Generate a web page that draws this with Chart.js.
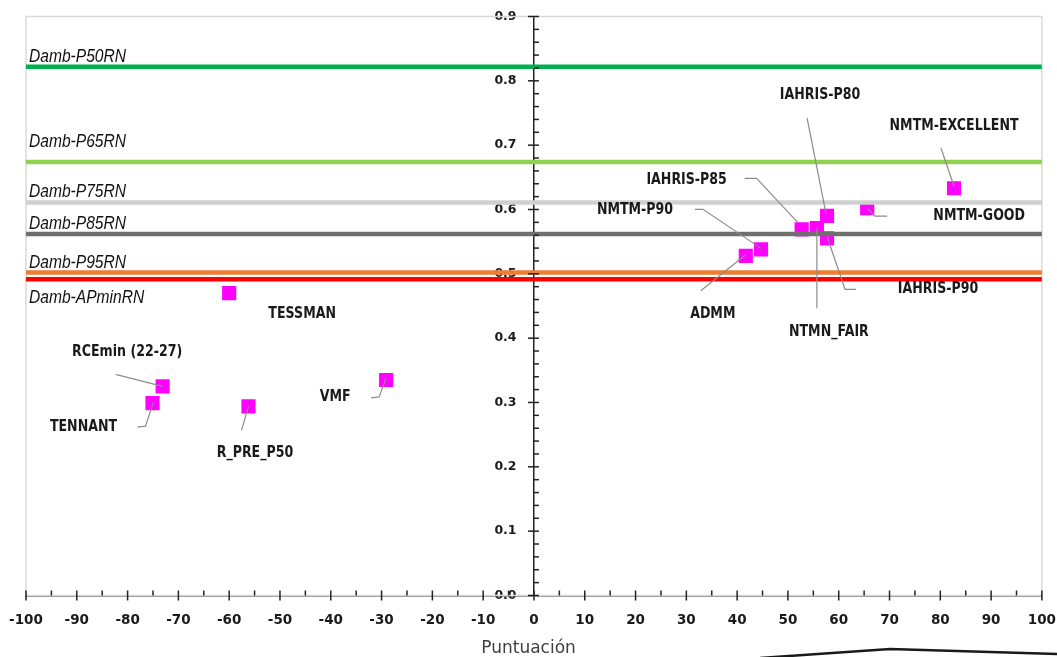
<!DOCTYPE html>
<html>
<head>
<meta charset="utf-8">
<script src="https://cdn.jsdelivr.net/npm/chart.js@4.4.0/dist/chart.umd.min.js"></script>
<style>
  html, body { margin: 0; padding: 0; background: #fff; }
  #wrap { width: 1057px; height: 657px; }
</style>
</head>
<body>
<div id="wrap"><canvas id="grafico" width="1057" height="657"></canvas></div>
<script>
// metodos evaluados
const metodos = ['TESSMAN', 'RCEmin (22-27)', 'TENNANT', 'R_PRE_P50', 'VMF', 'NMTM-EXCELLENT', 'NMTM-GOOD',
                 'IAHRIS-P80', 'IAHRIS-P85', 'NTMN_FAIR', 'IAHRIS-P90', 'NMTM-P90', 'ADMM'];
const puntuacion = [-60, -73.1, -75.1, -56.2, -29.1, 82.7, 65.6, 57.7, 52.7, 55.7, 57.7, 44.7, 41.7];
const valores = [0.470, 0.325, 0.299, 0.294, 0.335, 0.633, 0.602, 0.590, 0.569, 0.571, 0.555, 0.538, 0.528];

// lineas de referencia
const refNombres = ['Damb-P50RN', 'Damb-P65RN', 'Damb-P75RN', 'Damb-P85RN', 'Damb-P95RN', 'Damb-APminRN'];
const refValores = [0.822, 0.674, 0.611, 0.562, 0.502, 0.4915];
const refColores = ['#00b050', '#92d050', '#d0d0d0', '#6f6f6f', '#ed7d31', '#ff0000'];

// ejes
const xMin = -100, xMax = 100, xPaso = 10;
const yMin = 0, yMax = 0.9, yPaso = 0.1;

// posicion de las etiquetas (px respecto al punto) y de las guias
const etiquetaPos = [[73, 21], [-35.5, -34], [-69, 24], [6.5, 47], [-51, 17], [0, -62], [112, 8],
                     [-7, -121], [-115, -49], [12, 104], [111, 51], [-126, -39], [-33, 58]];
const guias = [
    [],
    [[-47, -12], [0, 0]],
    [[-15, 24], [-7, 23], [1, -1]],
    [[-7, 24], [0, 0]],
    [[-15, 18], [-7, 17], [0, -2]],
    [[-13, -40], [0, -2]],
    [[0, 0], [8, 8], [20, 8]],
    [[-20, -98], [-1, -2]],
    [[-57, -51], [-45, -51], [-4, -7]],
    [[0, 80], [0, 0]],
    [[29, 51], [18, 51], [0, -2]],
    [[-66, -40], [-58, -40], [0, -1]],
    [[-45, 35], [0, -1]]
];
const refEtiquetaDy = [-5, -15, -5, -5, -5, 24];

const decoraciones = {
    id: 'decoraciones',
    beforeDatasetsDraw(chart) {
        const { ctx, chartArea: a } = chart;
        ctx.save();
        ctx.strokeStyle = '#d9d9d9';
        ctx.lineWidth = 1.5;
        ctx.strokeRect(a.left, a.top, a.right - a.left, a.bottom - a.top);
        ctx.restore();
    },
    afterDatasetsDraw(chart) {
        const { ctx, chartArea: a } = chart;
        const x = chart.scales.x, y = chart.scales.y;
        ctx.save();

        // nombres de las lineas de referencia
        ctx.fillStyle = '#111';
        ctx.font = 'italic 19px "Liberation Sans", sans-serif';
        ctx.textBaseline = 'alphabetic';
        refNombres.forEach((nombre, i) => {
            const py = y.getPixelForValue(refValores[i]) + refEtiquetaDy[i];
            ctx.save();
            ctx.translate(a.left + 3, py);
            ctx.scale(0.82, 1);
            ctx.fillText(nombre, 0, 0);
            ctx.restore();
        });

        // guias y etiquetas de los metodos
        ctx.strokeStyle = '#8c8c8c';
        ctx.lineWidth = 1.2;
        metodos.forEach((m, i) => {
            const px = x.getPixelForValue(puntuacion[i]);
            const py = y.getPixelForValue(valores[i]);
            const g = guias[i];
            if (g.length) {
                ctx.beginPath();
                g.forEach((p, k) => {
                    if (k === 0) ctx.moveTo(px + p[0], py + p[1]);
                    else ctx.lineTo(px + p[0], py + p[1]);
                });
                ctx.stroke();
            }
            ctx.save();
            ctx.translate(px + etiquetaPos[i][0], py + etiquetaPos[i][1]);
            ctx.scale(0.84, 1);
            ctx.fillStyle = '#1a1a1a';
            ctx.font = 'bold 15px "DejaVu Sans", sans-serif';
            ctx.textAlign = 'center';
            ctx.textBaseline = 'middle';
            ctx.fillText(m, 0, 0);
            ctx.restore();
        });

        // marcas de los ejes
        ctx.strokeStyle = '#222';
        ctx.lineWidth = 1.5;
        const x0 = x.getPixelForValue(0);
        for (let i = 0; i <= 45; i++) {
            const py = y.getPixelForValue(i * 0.02);
            ctx.beginPath();
            if (i % 5 === 0) { ctx.moveTo(x0 - 6, py); ctx.lineTo(x0 + 5, py); }
            else { ctx.moveTo(x0, py); ctx.lineTo(x0 + 5, py); }
            ctx.stroke();
        }
        const yb = a.bottom;
        for (let i = -20; i <= 20; i++) {
            const px = x.getPixelForValue(i * 5);
            ctx.beginPath();
            if (i % 2 === 0) { ctx.moveTo(px, yb - 5); ctx.lineTo(px, yb + 5); }
            else { ctx.moveTo(px, yb - 5); ctx.lineTo(px, yb); }
            ctx.stroke();
        }
        ctx.restore();
    },
    afterDraw(chart) {
        const ctx = chart.ctx;
        ctx.save();
        ctx.strokeStyle = '#1a1a1a';
        ctx.lineWidth = 2.5;
        ctx.beginPath();
        ctx.moveTo(760, 658);
        ctx.lineTo(890, 649);
        ctx.lineTo(1057, 654);
        ctx.stroke();
        ctx.restore();
    }
};

const datasets = refNombres.map((nombre, i) => ({
    type: 'line',
    label: nombre,
    data: [{ x: xMin, y: refValores[i] }, { x: xMax, y: refValores[i] }],
    borderColor: refColores[i],
    borderWidth: 4.5,
    pointRadius: 0,
    order: 0
}));
datasets.push({
    type: 'scatter',
    label: 'Metodos',
    data: puntuacion.map((v, i) => ({ x: v, y: valores[i] })),
    pointStyle: 'rect',
    pointRadius: 10,
    pointHoverRadius: 10,
    backgroundColor: '#ff00ff',
    borderColor: '#ff00ff',
    borderWidth: 0,
    order: 1
});

new Chart(document.getElementById('grafico'), {
    type: 'scatter',
    data: { datasets: datasets },
    options: {
        responsive: false,
        animation: false,
        layout: { padding: { left: 26, right: 15, top: 16.5, bottom: 1 } },
        plugins: { legend: { display: false }, tooltip: { enabled: false } },
        scales: {
            x: {
                type: 'linear',
                position: 'bottom',
                min: xMin, max: xMax,
                z: 1,
                grid: { drawOnChartArea: false, drawTicks: false },
                border: { display: true, color: '#222', width: 1.5 },
                ticks: {
                    stepSize: xPaso,
                    padding: 1,
                    color: '#1a1a1a',
                    font: { family: 'DejaVu Sans', size: 13.5, weight: 'bold', lineHeight: 3.63 },
                    callback: v => String(v)
                },
                title: {
                    display: true,
                    text: 'Puntuación  ',
                    color: '#404040',
                    font: { family: 'DejaVu Sans', size: 17, lineHeight: 0.06 },
                    padding: { top: 2, bottom: 6.5 }
                }
            },
            y: {
                type: 'linear',
                position: { x: 0 },
                min: yMin, max: yMax,
                z: 1,
                grid: { drawOnChartArea: false, drawTicks: false },
                border: { display: true, color: '#222', width: 1.5 },
                ticks: {
                    stepSize: yPaso,
                    padding: 0,
                    color: '#1a1a1a',
                    font: { family: 'DejaVu Sans', size: 12.5, weight: 'bold' },
                    // espacios finales para separar la etiqueta del eje
                    callback: v => v.toFixed(1) + '    '
                }
            }
        }
    },
    plugins: [decoraciones]
});
</script>
</body>
</html>
